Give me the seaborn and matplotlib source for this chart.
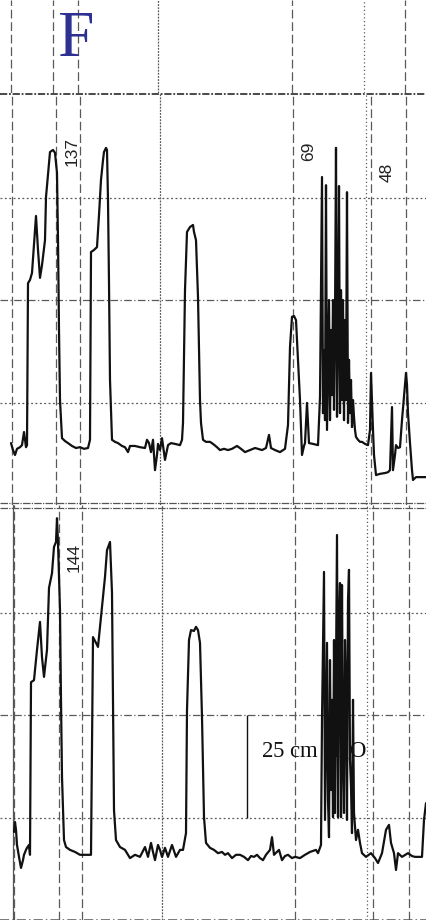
import pandas as pd
import matplotlib
matplotlib.use("Agg")
import matplotlib.pyplot as plt
import seaborn as sns

# --- data (time in s, pressure in cm H2O) ---
t_upper = [1.1, 1.3, 1.5, 1.7, 2.0, 2.2, 2.4, 2.6, 2.7, 2.8, 3.0, 3.2, 3.4, 3.6, 3.8, 4.0, 4.2, 4.5, 4.6, 4.8,
           5.0, 5.3, 5.5, 5.7, 5.8, 5.9, 6.0, 6.2, 6.5, 6.8, 7.2, 7.6, 8.0, 8.4, 8.8, 9.0, 9.1, 9.4, 9.7, 9.9,
           10.1, 10.3, 10.4, 10.6, 10.7, 10.8, 10.9, 11.0, 11.2, 11.5, 11.8, 12.2, 12.5, 12.8, 13.0, 13.5, 14.0, 14.5, 14.7, 14.9,
           15.1, 15.3, 15.5, 15.7, 15.8, 16.0, 16.2, 16.5, 16.8, 17.1, 17.5, 18.0, 18.2, 18.3, 18.5, 18.7, 19.0, 19.3, 19.4, 19.6,
           19.8, 20.0, 20.1, 20.3, 20.6, 21.0, 21.3, 21.7, 22.0, 22.4, 22.8, 23.2, 23.7, 24.1, 24.5, 25.0, 25.5, 25.8, 26.2, 26.6,
           26.9, 27.1, 27.5, 28.0, 28.5, 28.8, 29.0, 29.2, 29.4, 29.6, 29.8, 30.0, 30.2, 30.4, 30.5, 30.7, 30.9, 31.3, 31.8,
           32.0, 32.2, 32.3, 32.4, 32.5, 32.6, 32.7, 32.8, 32.9, 33.0, 33.1, 33.2, 33.3, 33.4, 33.5, 33.6, 33.7, 33.8, 33.9,
           34.0, 34.1, 34.2, 34.3, 34.4, 34.5, 34.6, 34.7, 34.8, 34.9, 35.0, 35.1, 35.2, 35.3, 35.4, 35.5, 35.6, 35.8,
           36.0, 36.2, 36.5, 36.8, 37.0, 37.1, 37.3, 37.4, 37.6, 38.0, 38.5, 38.8, 39.0, 39.1, 39.2, 39.3, 39.5, 39.6,
           39.8, 40.0, 40.2, 40.4, 40.6, 40.7, 40.8, 41.0, 41.2, 41.3, 41.6, 42.0, 42.6]
p_upper = [15.1, 13.4, 12.2, 13.7, 14.1, 14.6, 17.8, 14.1, 14.6, 54.1, 54.9, 56.6, 63.4, 70.5, 62.2, 55.4, 58.5, 64.6, 75.1, 80.5,
           86.1, 86.6, 85.9, 81.0, 64.6, 42.7, 25.6, 16.3, 15.6, 15.1, 14.4, 13.9, 14.1, 13.7, 13.9, 15.9, 61.7, 62.2, 62.9, 70.7,
           79.3, 84.1, 86.1, 87.1, 86.6, 74.4, 54.1, 30.5, 15.9, 15.4, 15.1, 14.4, 14.1, 12.9, 14.4, 14.4, 14.1, 13.9, 15.9, 15.1,
           12.9, 15.9, 8.5, 12.2, 14.9, 13.4, 16.3, 11.0, 14.6, 15.1, 14.9, 14.6, 15.9, 20.0, 52.4, 66.6, 67.8, 68.3, 66.6, 64.6,
           50.7, 25.6, 20.0, 15.9, 15.4, 15.4, 14.9, 14.1, 13.4, 13.7, 13.4, 13.7, 14.4, 13.7, 12.9, 13.4, 13.9, 13.7, 13.4, 13.9,
           17.1, 13.9, 13.4, 12.9, 13.7, 19.5, 38.5, 45.9, 46.1, 45.1, 35.4, 25.6, 12.2, 14.4, 15.1, 24.9, 15.1, 14.9, 14.6,
           26.3, 80.0, 22.4, 37.8, 20.7, 78.0, 18.3, 34.6, 50.0, 20.7, 42.7, 26.8, 50.0, 23.2, 45.1, 87.1, 21.5, 42.7, 77.8,
           22.4, 52.4, 25.6, 50.0, 20.7, 45.1, 25.6, 76.3, 20.0, 35.4, 22.4, 30.5, 19.0, 25.6, 21.5, 18.3, 16.6, 15.9,
           15.4, 15.4, 14.9, 14.6, 18.3, 32.2, 18.3, 12.2, 7.3, 7.6, 7.8, 8.0, 8.5, 15.9, 23.9, 8.5, 12.2, 14.6,
           13.9, 14.1, 20.7, 26.3, 32.2, 29.3, 22.4, 15.1, 8.5, 6.1, 6.8, 6.8, 6.8]

t_lower = [1.4, 1.5, 1.6, 1.7, 1.9, 2.1, 2.3, 2.4, 2.6, 2.7, 2.9, 3.0, 3.1, 3.4, 3.7, 4.0, 4.2, 4.4, 4.7, 4.9,
           5.2, 5.4, 5.6, 5.7, 5.8, 6.0, 6.1, 6.2, 6.4, 6.6, 7.0, 7.5, 8.0, 8.6, 9.1, 9.3, 9.6, 9.8, 10.0, 10.3,
           10.5, 10.7, 11.0, 11.2, 11.3, 11.4, 11.6, 12.0, 12.5, 13.0, 13.5, 14.0, 14.5, 14.8, 15.1, 15.3, 15.5, 15.8, 16.0, 16.2,
           16.5, 16.8, 17.2, 17.6, 18.0, 18.3, 18.6, 18.7, 18.9, 19.1, 19.4, 19.6, 19.8, 20.0, 20.2, 20.4, 20.6, 21.0, 21.4, 21.8,
           22.2, 22.5, 22.8, 23.2, 23.6, 24.0, 24.4, 24.8, 25.1, 25.4, 25.7, 26.0, 26.3, 26.6, 27.0, 27.2, 27.4, 27.7, 27.9, 28.2,
           28.5, 28.8, 29.2, 29.5, 30.0, 30.5, 31.0, 31.6, 31.8, 32.1,
           32.2, 32.4, 32.5, 32.7, 32.8, 32.9, 33.0, 33.1, 33.2, 33.3, 33.4, 33.5, 33.7, 33.8, 33.9, 34.0, 34.1, 34.2, 34.3,
           34.4, 34.5, 34.6, 34.7, 34.8, 34.9, 35.0, 35.1, 35.2, 35.3, 35.4, 35.6, 35.8, 36.0, 36.2, 36.6, 37.1, 37.5, 37.8,
           38.2, 38.6, 38.9, 39.1, 39.3, 39.4, 39.6, 39.8, 40.2, 40.8, 41.2, 41.5, 42.2, 42.4, 42.6]
p_lower = [21.5, 23.9, 22.0, 18.3, 15.4, 12.7, 14.6, 15.9, 17.1, 17.6, 18.3, 15.9, 58.0, 58.5, 65.9, 72.7, 64.1, 59.3, 65.9, 81.0,
           84.6, 91.0, 92.2, 98.0, 92.0, 75.6, 53.7, 34.9, 19.5, 17.8, 17.1, 16.6, 15.9, 15.9, 15.9, 69.0, 67.6, 66.6, 71.5, 78.8,
           83.7, 90.2, 92.2, 79.8, 53.7, 26.8, 19.5, 17.8, 17.1, 15.1, 15.9, 15.4, 17.8, 15.4, 18.8, 16.6, 14.6, 18.3, 17.1, 15.4,
           17.6, 15.4, 18.3, 15.4, 17.1, 17.1, 21.2, 51.2, 68.3, 70.7, 70.5, 71.5, 70.7, 67.6, 49.5, 25.1, 18.8, 17.6, 17.1, 16.3,
           16.6, 15.9, 16.3, 15.1, 15.9, 15.9, 15.4, 14.6, 15.6, 15.4, 15.9, 15.1, 14.6, 15.9, 17.1, 20.2, 15.9, 16.6, 17.1, 14.6,
           15.6, 15.9, 15.1, 15.4, 15.1, 15.9, 16.6, 17.1, 16.3, 18.3,
           48.8, 84.9, 24.4, 67.6, 29.3, 20.2, 63.4, 31.7, 53.7, 25.1, 68.3, 26.1, 93.9, 25.1, 73.2, 82.2, 25.1, 81.7, 39.0,
           26.1, 68.3, 56.8, 24.4, 78.0, 85.4, 39.0, 32.4, 21.2, 53.7, 26.1, 19.5, 22.0, 18.8, 16.3, 15.4, 16.3, 15.1, 13.9,
           16.3, 22.0, 23.2, 18.8, 17.1, 16.3, 12.2, 16.3, 15.4, 16.3, 15.6, 15.4, 15.4, 24.4, 28.5]

grid_levels = [25, 50, 75]          # cm H2O
vlines_top = [1.1, 5.3, 7.8, 15.8, 29.2, 36.4, 40.5]
vlines_upper = [1.2, 5.6, 8.0, 16.0, 29.3, 36.6, 37.1, 40.6]
vlines_lower = [1.4, 5.9, 8.2, 16.2, 29.5, 36.7, 37.3, 40.9]
scale_bar = (24.65, 25, 50)         # time, from, to (cm H2O)
peak_labels = [("137", 72, 152), ("69", 309, 151), ("48", 387, 172), ("144", 74, 558)]

W, H = 426, 924
PX = 4.1   # pixels per cm H2O on the chart paper

sns.set_theme(style="white")
plt.rcParams['font.family'] = ['Liberation Sans', 'DejaVu Sans']
plt.rcParams['mathtext.fontset'] = 'stix'

fig = plt.figure(figsize=(W / 100, H / 100), dpi=100)
fig.patch.set_facecolor("white")


def px_axes(top, bottom):
    return fig.add_axes([0, (H - bottom) / H, 1, (bottom - top) / H])


ax_top = px_axes(0, 93)
ax_up = px_axes(93, 505)
ax_lo = px_axes(505, 920)

for ax in (ax_top, ax_up, ax_lo):
    ax.set_xlim(0, W / 10)
    ax.set_axis_off()
ax_top.set_ylim(0, 1)
ax_up.set_ylim(0, (505 - 93) / PX)
ax_lo.set_ylim(0, (920 - 505) / PX)

grid_kw = dict(color="#5a5a5a", lw=0.9, zorder=1)


def vgrid(ax, xs):
    for x in xs:
        if 15 < x < 17:
            ls = (0, (1.5, 1))
        elif 36 < x < 37:
            ls = (0, (1, 2))
        else:
            ls = (0, (7, 3))
        ax.axvline(x, ls=ls, **grid_kw)


vgrid(ax_top, vlines_top)
vgrid(ax_up, vlines_upper)
vgrid(ax_lo, vlines_lower)

for ax in (ax_up, ax_lo):
    for lev in grid_levels:
        ls = (0, (6, 2, 1, 2)) if lev == 50 else (0, (1.5, 2))
        ax.axhline(lev, ls=ls, **grid_kw)

# flat trace of the top channel and the panel separator
ax_up.axhline(100.2, color="#3a3a3a", lw=1.3, ls=(0, (4, 1, 1, 1)), zorder=2)
ax_up.axhline(0.4, color="#555555", lw=0.9, ls=(0, (6, 1, 1, 1)), zorder=2)
ax_lo.axhline(100.6, color="#555555", lw=0.9, ls=(0, (6, 1, 1, 1)), zorder=2)
ax_lo.axhline(0.0, color="#555555", lw=1.1, ls=(0, (6, 2, 1, 2)), zorder=2)
ax_lo.axvline(1.3, color="#555555", lw=0.9, zorder=2)

df_up = pd.DataFrame({"time": t_upper, "pressure": p_upper})
df_lo = pd.DataFrame({"time": t_lower, "pressure": p_lower})
sns.lineplot(data=df_up, x="time", y="pressure", ax=ax_up, sort=False, estimator=None,
             color="#111111", lw=1.6, zorder=3)
sns.lineplot(data=df_lo, x="time", y="pressure", ax=ax_lo, sort=False, estimator=None,
             color="#111111", lw=1.6, zorder=3)
for ax in (ax_up, ax_lo):
    ax.set_xlim(0, W / 10)
    ax.set_axis_off()

# 25 cm H2O calibration bar
ax_lo.vlines(scale_bar[0], scale_bar[1], scale_bar[2], color="#111111", lw=1.0, zorder=2)
ax_lo.text(261 / W, 1 - 757 / H, "25 cm H$_2$O", transform=fig.transFigure,
           family=["Liberation Serif", "DejaVu Serif"], fontsize=16.5, color="#111111",
           ha="left", va="baseline", zorder=2)

for txt, x, y in peak_labels:
    fig.text(x / W, 1 - y / H, txt, rotation=90, ha="center", va="center",
             fontsize=12.5, color="#222222")

fig.text(57 / W, 1 - 56 / H, "F", family=["Liberation Serif", "DejaVu Serif"],
         fontsize=47, color="#2E3192", ha="left", va="baseline")

fig.savefig("out.png", dpi=100, facecolor="white")
